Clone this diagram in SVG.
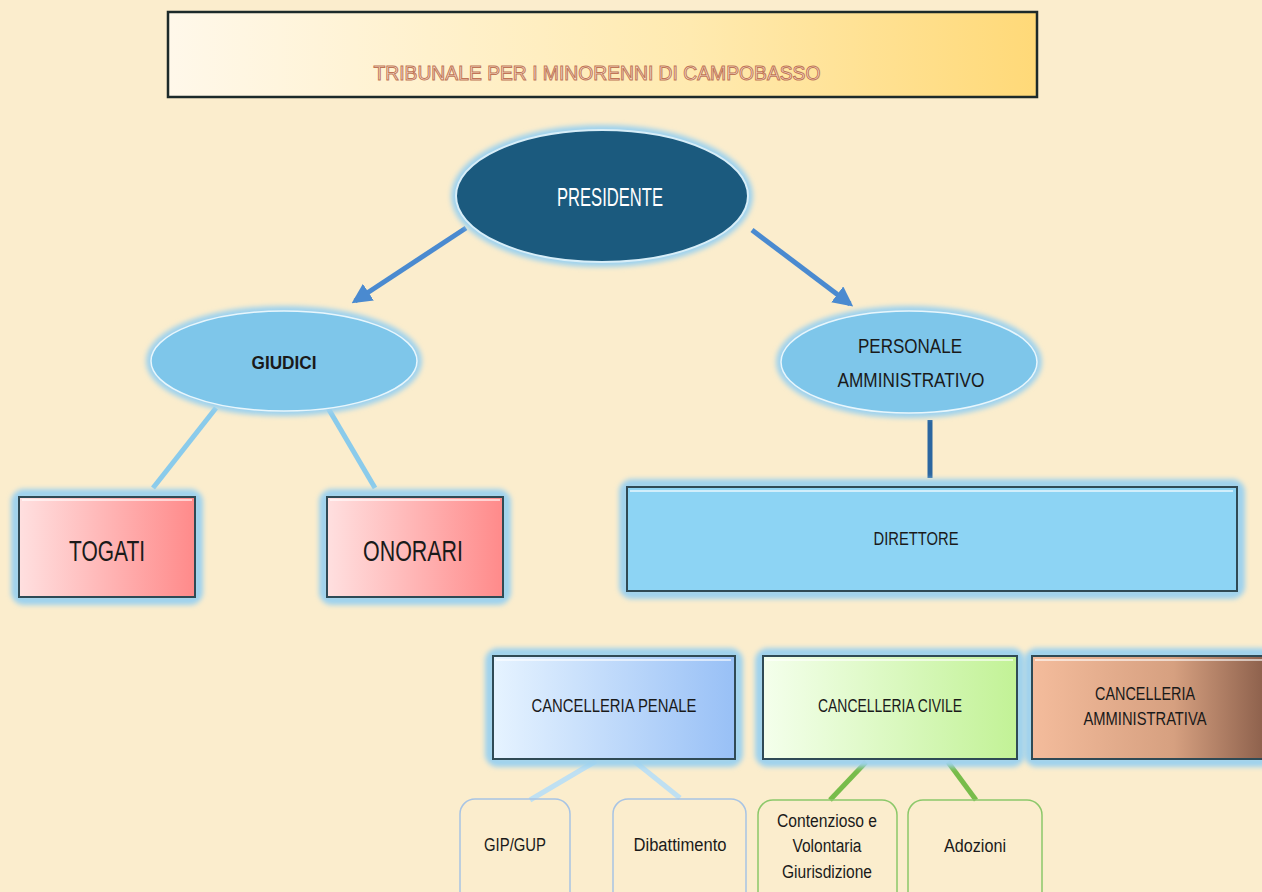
<svg xmlns="http://www.w3.org/2000/svg" width="1262" height="892" viewBox="0 0 1262 892">
<defs>
<linearGradient id="gTitle" x1="0" y1="0" x2="1" y2="0"><stop offset="0" stop-color="#fff8ea"/><stop offset="0.6" stop-color="#ffeab0"/><stop offset="1" stop-color="#ffd978"/></linearGradient>
<linearGradient id="gRed" x1="0" y1="0" x2="1" y2="0"><stop offset="0" stop-color="#ffe0e0"/><stop offset="1" stop-color="#ff8a8a"/></linearGradient>
<linearGradient id="gPen" x1="0" y1="0" x2="1" y2="0"><stop offset="0" stop-color="#e6f3ff"/><stop offset="1" stop-color="#98c0f6"/></linearGradient>
<linearGradient id="gCiv" x1="0" y1="0" x2="1" y2="0"><stop offset="0" stop-color="#f4ffec"/><stop offset="1" stop-color="#c2f296"/></linearGradient>
<linearGradient id="gAmm" x1="0" y1="0" x2="1" y2="0"><stop offset="0" stop-color="#f4bc9c"/><stop offset="0.6" stop-color="#d6a080"/><stop offset="1" stop-color="#8a5e4a"/></linearGradient>
<filter id="glow" x="-20%" y="-20%" width="140%" height="140%"><feGaussianBlur stdDeviation="2.5"/></filter>
<marker id="arr" viewBox="0 0 10 10" refX="8" refY="5" markerWidth="4" markerHeight="4" orient="auto"><path d="M0,0 L10,5 L0,10 z" fill="#4a8ad0"/></marker>
<style>
text{font-family:"Liberation Sans",Arial,sans-serif;text-anchor:middle;dominant-baseline:central;fill:#1a1a1a}
text.w{fill:#ffffff}
text.t{fill:#fde6d6;stroke:#c07656;stroke-width:1}
.halo{fill:none;stroke:#9ed2ee;stroke-width:10;filter:url(#glow)}
.box{stroke:#2f4a55;stroke-width:2}
.hl{stroke:#ffffff;stroke-opacity:0.6;stroke-width:2;fill:none}
.conn{fill:none;stroke-width:5}
.leaf{fill:none;stroke-width:1.5}
</style>
</defs>
<rect width="1262" height="892" fill="#fbedcd"/>
<g id="title">
<rect x="168" y="12" width="869" height="85" fill="url(#gTitle)" stroke="#1c2a2a" stroke-width="2.5"/>
<text class="t" x="597" y="73" font-size="20" textLength="447" lengthAdjust="spacingAndGlyphs">TRIBUNALE PER I MINORENNI DI CAMPOBASSO</text>
</g>
<g id="connectors">
<line class="conn" x1="466" y1="228" x2="355" y2="301" stroke="#4a8ad0" marker-end="url(#arr)"/>
<line class="conn" x1="752" y1="230" x2="850" y2="304" stroke="#4a8ad0" marker-end="url(#arr)"/>
<line class="conn" x1="216" y1="408" x2="153" y2="488" stroke="#8acbeb"/>
<line class="conn" x1="328" y1="408" x2="375" y2="488" stroke="#8acbeb"/>
<line class="conn" x1="930" y1="420" x2="930" y2="478" stroke="#2a66a0"/>
<line class="conn" x1="596" y1="761" x2="530" y2="800" stroke="#bfe0f2"/>
<line class="conn" x1="634" y1="761" x2="680" y2="798" stroke="#bfe0f2"/>
<line class="conn" x1="866" y1="762" x2="830" y2="800" stroke="#78bc4a"/>
<line class="conn" x1="948" y1="762" x2="976" y2="800" stroke="#78bc4a"/>
</g>
<g id="presidente">
<ellipse class="halo" cx="602" cy="196" rx="146" ry="66"/>
<ellipse cx="602" cy="196" rx="146" ry="66" fill="#1b5a7e" stroke="#d8eef8" stroke-width="2"/>
<text class="w" x="610" y="197" font-size="25" textLength="106" lengthAdjust="spacingAndGlyphs">PRESIDENTE</text>
</g>
<g id="giudici">
<ellipse class="halo" cx="284" cy="361" rx="133" ry="50"/>
<ellipse cx="284" cy="361" rx="133" ry="50" fill="#7ec6ea" stroke="#e8f6fc" stroke-width="1.5"/>
<text x="284" y="362" font-size="19" font-weight="bold" textLength="65" lengthAdjust="spacingAndGlyphs">GIUDICI</text>
</g>
<g id="personale">
<ellipse class="halo" cx="909" cy="362" rx="128" ry="51"/>
<ellipse cx="909" cy="362" rx="128" ry="51" fill="#7ec6ea" stroke="#e8f6fc" stroke-width="1.5"/>
<text x="910" y="345" font-size="21" textLength="104" lengthAdjust="spacingAndGlyphs">PERSONALE</text>
<text x="911" y="379" font-size="21" textLength="147" lengthAdjust="spacingAndGlyphs">AMMINISTRATIVO</text>
</g>
<g id="togati">
<rect class="halo" x="16" y="494" width="182" height="106" rx="8"/>
<rect class="box" x="19" y="497" width="176" height="100" fill="url(#gRed)" stroke="#7a2424"/>
<line class="hl" x1="22" y1="500" x2="192" y2="500"/>
<text x="107" y="550" font-size="30" textLength="76" lengthAdjust="spacingAndGlyphs">TOGATI</text>
</g>
<g id="onorari">
<rect class="halo" x="324" y="494" width="182" height="106" rx="8"/>
<rect class="box" x="327" y="497" width="176" height="100" fill="url(#gRed)" stroke="#7a2424"/>
<line class="hl" x1="330" y1="500" x2="500" y2="500"/>
<text x="413" y="550" font-size="30" textLength="100" lengthAdjust="spacingAndGlyphs">ONORARI</text>
</g>
<g id="direttore">
<rect class="halo" x="624" y="484" width="616" height="110" rx="8"/>
<rect class="box" x="627" y="487" width="610" height="104" fill="#8dd4f4"/>
<line class="hl" x1="630" y1="491" x2="1233" y2="491"/>
<text x="916" y="539" font-size="18" textLength="85" lengthAdjust="spacingAndGlyphs">DIRETTORE</text>
</g>
<g id="penale">
<rect class="halo" x="490" y="653" width="248" height="109" rx="8"/>
<rect class="box" x="493" y="656" width="242" height="103" fill="url(#gPen)" stroke="#2a4a4a"/>
<line class="hl" x1="496" y1="660" x2="731" y2="660"/>
<text x="614" y="706" font-size="18" textLength="165" lengthAdjust="spacingAndGlyphs">CANCELLERIA PENALE</text>
</g>
<g id="civile">
<rect class="halo" x="760" y="653" width="260" height="109" rx="8"/>
<rect class="box" x="763" y="656" width="254" height="103" fill="url(#gCiv)" stroke="#2a4a3a"/>
<line class="hl" x1="766" y1="660" x2="1013" y2="660"/>
<text x="890" y="706" font-size="18" textLength="144" lengthAdjust="spacingAndGlyphs">CANCELLERIA CIVILE</text>
</g>
<g id="amministrativa">
<rect class="halo" x="1029" y="653" width="240" height="109" rx="8"/>
<rect class="box" x="1032" y="656" width="236" height="103" fill="url(#gAmm)" stroke="#3a2a22"/>
<line class="hl" x1="1035" y1="660" x2="1262" y2="660"/>
<text x="1145" y="694" font-size="18" textLength="100" lengthAdjust="spacingAndGlyphs">CANCELLERIA</text>
<text x="1145" y="719" font-size="18" textLength="123" lengthAdjust="spacingAndGlyphs">AMMINISTRATIVA</text>
</g>
<g id="gipgup">
<rect class="leaf" x="460" y="799" width="110" height="110" rx="15" stroke="#a8c4e4"/>
<text x="515" y="845" font-size="18" textLength="62" lengthAdjust="spacingAndGlyphs">GIP/GUP</text>
</g>
<g id="dibattimento">
<rect class="leaf" x="613" y="799" width="133" height="110" rx="15" stroke="#a8c4e4"/>
<text x="680" y="845" font-size="18" textLength="93" lengthAdjust="spacingAndGlyphs">Dibattimento</text>
</g>
<g id="contenzioso">
<rect class="leaf" x="758" y="800" width="139" height="110" rx="15" stroke="#8cc86a"/>
<text x="827" y="821" font-size="18" textLength="100" lengthAdjust="spacingAndGlyphs">Contenzioso e</text>
<text x="827" y="846" font-size="18" textLength="69" lengthAdjust="spacingAndGlyphs">Volontaria</text>
<text x="827" y="872" font-size="18" textLength="90" lengthAdjust="spacingAndGlyphs">Giurisdizione</text>
</g>
<g id="adozioni">
<rect class="leaf" x="908" y="800" width="134" height="110" rx="15" stroke="#8cc86a"/>
<text x="975" y="846" font-size="18" textLength="62" lengthAdjust="spacingAndGlyphs">Adozioni</text>
</g>
</svg>
